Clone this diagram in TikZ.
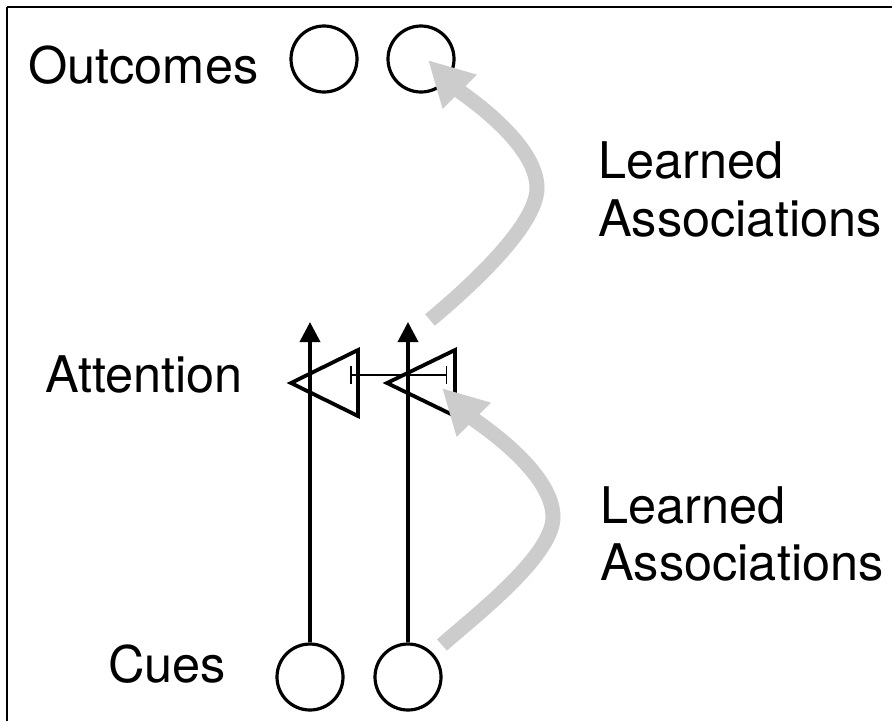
\documentclass[tikz,border=0pt]{standalone}
\usepackage{fontspec}
\setmainfont{TeX Gyre Heros}
\usetikzlibrary{arrows.meta}
\definecolor{assocgrey}{HTML}{CCCCCC}
\tikzset{
  unit/.style={circle, draw=black, line width=3.2pt, minimum size=66pt, inner sep=0pt},
  lbl/.style={anchor=base west, inner sep=0pt, font=\fontsize{50.5}{57}\selectfont},
  cueline/.style={line width=3.6pt, -{Triangle[length=20pt,width=20pt]}},
  gate/.style={line width=3.8pt, line join=miter},
  inhib/.style={line width=1.2pt, {Bar[width=18pt,line width=1.5pt]}-{Bar[width=18pt,line width=1.5pt]}},
  assoc/.style={assocgrey, line width=15pt, -{Triangle[length=45pt,width=45pt]}}
}
\begin{document}
\begin{tikzpicture}[x=1pt,y=-1pt]
\useasboundingbox (0,0) rectangle (892,721);
% partial frame
\draw[line width=2pt] (7,7) -- (892,7);
\draw[line width=1.5pt] (7,7) -- (7,721);

% labels
\node[lbl] (outlbl) at (28,83) {Outcomes};
\node[lbl] (attlbl) at (45,392) {Attention};
\node[lbl] (cuelbl) at (108,682) {Cues};
\node[lbl] (la1) at (598,178) {Learned};
\node[lbl] (la2) at (598,236) {Associations};
\node[lbl] (lb1) at (600,523) {Learned};
\node[lbl] (lb2) at (600,580) {Associations};

% outcome and cue units
\node[unit] (o1) at (324,59) {};
\node[unit] (o2) at (421,59) {};
\node[unit] (c1) at (310,677) {};
\node[unit] (c2) at (408,677) {};

% attention gates
\coordinate (g1a) at (291,383);
\coordinate (g1b) at (358,350);
\coordinate (g1c) at (358,416);
\coordinate (g2a) at (387,383);
\coordinate (g2b) at (455,350);
\coordinate (g2c) at (455,416);
\draw[gate] (g1a) -- (g1b) -- (g1c) -- cycle;
\draw[gate] (g2a) -- (g2b) -- (g2c) -- cycle;

% attention outputs
\coordinate (a1) at (310,322);
\coordinate (a2) at (408,322);
\draw[cueline] (c1.north) -- (a1);
\draw[cueline] (c2.north) -- (a2);

% mutual inhibition
\coordinate (i1) at (350,375);
\coordinate (i2) at (447,375);
\draw[inhib] (i1) -- (i2);

% learned associations
\coordinate (up0) at (430,320);
\coordinate (up1) at (537,188);
\coordinate (up2) at (428,60);
\draw[assoc] (up0) to[out=40,in=-90,looseness=0.6] (up1) to[out=90,in=-45,looseness=0.7] (up2);
\coordinate (lo0) at (442,645);
\coordinate (lo1) at (553,517);
\coordinate (lo2) at (442,388);
\draw[assoc] (lo0) to[out=42,in=-90,looseness=0.6] (lo1) to[out=90,in=-45,looseness=0.7] (lo2);
\end{tikzpicture}
\end{document}
